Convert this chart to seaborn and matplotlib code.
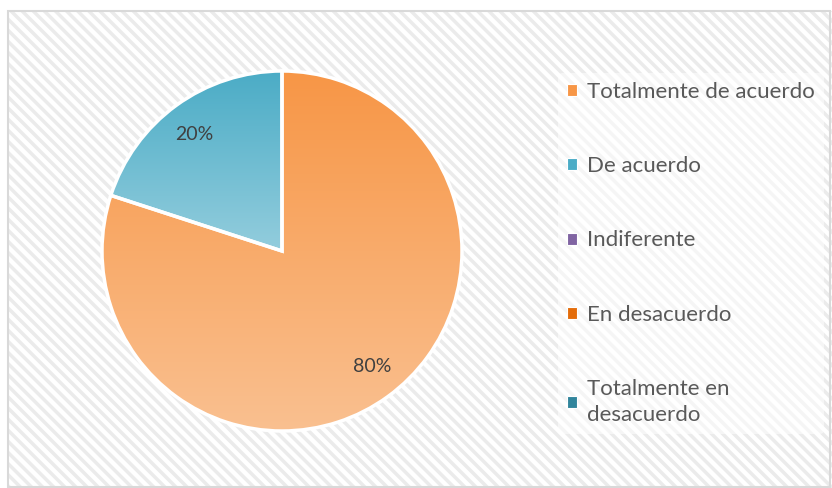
import matplotlib
matplotlib.use("Agg")
import matplotlib.pyplot as plt
import numpy as np
import seaborn as sns
from matplotlib.colors import LinearSegmentedColormap
from matplotlib.patches import Patch, Rectangle

# Survey answers and share of responses (%)
CATEGORIES = [
    "Totalmente de acuerdo",
    "De acuerdo",
    "Indiferente",
    "En desacuerdo",
    "Totalmente en\ndesacuerdo",
]
VALUES = [80, 20, 0, 0, 0]
PCT_LABELS = ["80%", "20%"]

# top / bottom colours of the gradient fill per slice
TOP_COLORS = ["#F79646", "#4BACC6", "#8064A2", "#E46C0A", "#31859C"]
BOTTOM_COLORS = ["#FAC090", "#93CDDD", "#B3A2C7", "#F0A060", "#6FB7CB"]

sns.set_style("white")
plt.rcParams["font.family"] = ["Lato", "DejaVu Sans"]
plt.rcParams["hatch.linewidth"] = 2.5
plt.rcParams["hatch.color"] = "#EBEBEB"

W, H = 832, 488
fig = plt.figure(figsize=(W / 100, H / 100), dpi=100)
fig.patch.set_facecolor("white")

# chart area: white with diagonal light-grey stripes
bg = Rectangle((8 / W, 0), 1 - 8 / W, (H - 11) / H, transform=fig.transFigure,
               facecolor="white", edgecolor="#EBEBEB", hatch="\\\\\\", lw=0, zorder=-2)
fig.patches.append(bg)
border = Rectangle((8 / W, 0.002), 1 - 8 / W - 0.002, (H - 11) / H - 0.002,
                   transform=fig.transFigure, fill=False, edgecolor="#D9D9D9", lw=1.5, zorder=-1)
fig.patches.append(border)

# pie axes: centre (282, 251), radius 180 px
r_px = 180 * 1.02
ax = fig.add_axes([(282 - r_px) / W, (H - 251 - r_px) / H, 2 * r_px / W, 2 * r_px / H])
ax.set_zorder(2)
ax.set_facecolor("none")

shown = [v for v in VALUES if v > 0]
wedges, _ = ax.pie(shown, startangle=90, counterclock=False,
                   colors=TOP_COLORS[:len(shown)],
                   wedgeprops=dict(edgecolor="white", linewidth=2.5))
ax.set_xlim(-1.02, 1.02)
ax.set_ylim(-1.02, 1.02)
ax.set_aspect("equal")
ax.axis("off")

grad = np.linspace(0, 1, 256).reshape(-1, 1)
for i, w in enumerate(wedges):
    ext = w.get_path().get_extents(w.get_transform()).transformed(ax.transData.inverted())
    cmap = LinearSegmentedColormap.from_list(f"g{i}", [TOP_COLORS[i], BOTTOM_COLORS[i]])
    im = ax.imshow(grad, cmap=cmap, aspect="auto", origin="upper",
                   extent=[ext.x0, ext.x1, ext.y0, ext.y1], zorder=w.get_zorder())
    im.set_clip_path(w)
    w.set_facecolor("none")
    w.set_zorder(w.get_zorder() + 1)

ax.set_xlim(-1.02, 1.02)
ax.set_ylim(-1.02, 1.02)

# percentage labels
ax.text(0.5, -0.64, PCT_LABELS[0], ha="center", va="center", fontsize=14, color="#404040")
ax.text(-0.49, 0.65, PCT_LABELS[1], ha="center", va="center", fontsize=14, color="#404040")

handles = [Patch(facecolor=TOP_COLORS[i], edgecolor="white", lw=0.8) for i in range(len(CATEGORIES))]
leg = fig.legend(handles, CATEGORIES, loc="upper left",
                 bbox_to_anchor=(547 / W, 1 - 62 / H), frameon=True,
                 fontsize=16, labelspacing=2.44, handlelength=0.45, handleheight=0.45,
                 handletextpad=0.45, borderpad=0.4, labelcolor="#595959")
leg.get_texts()[-1].set_linespacing(1.4)
leg.get_frame().set_facecolor("white")
leg.get_frame().set_alpha(0.55)
leg.get_frame().set_edgecolor("none")
leg.set_zorder(3)

fig.savefig("out.png", dpi=100)
